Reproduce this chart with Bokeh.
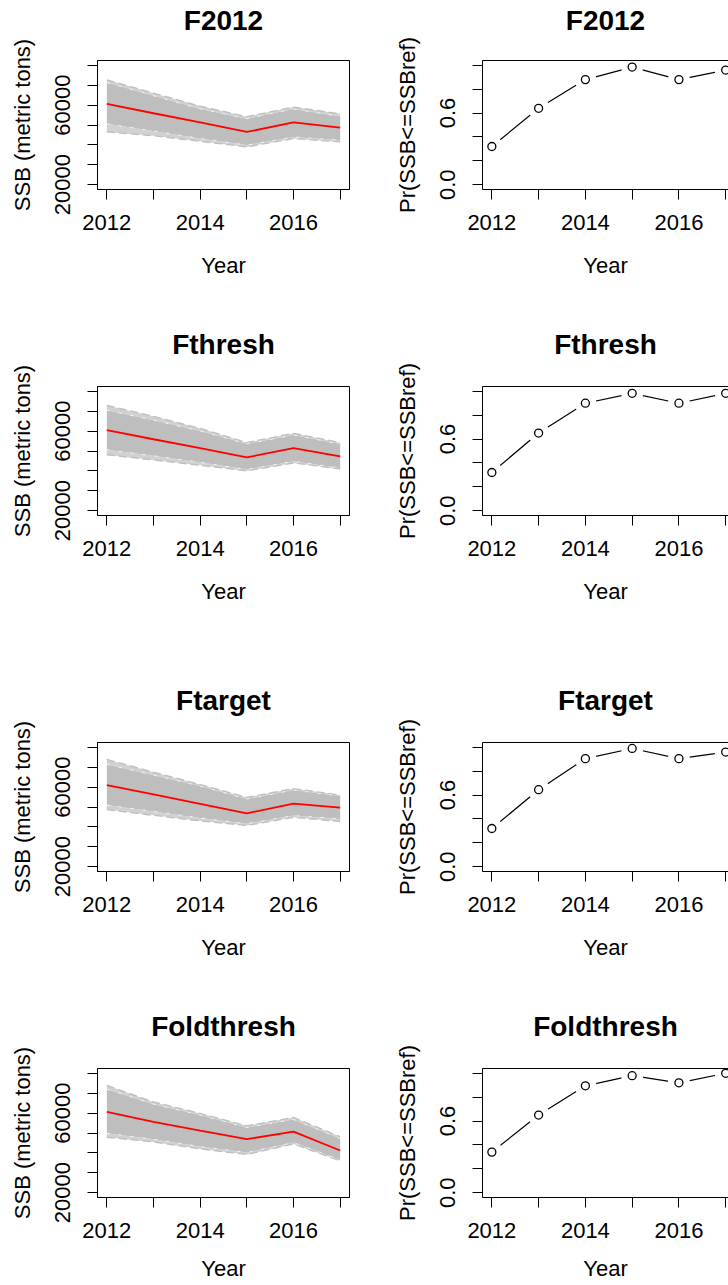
from bokeh.plotting import figure
from bokeh.layouts import column, row
from bokeh.models import FixedTicker, Range1d, LinearAxis
from bokeh.embed import file_html
from bokeh.resources import INLINE

# ---------------- data ----------------
years = [2012, 2013, 2014, 2015, 2016, 2017]
scenarios = ["F2012", "Fthresh", "Ftarget", "Foldthresh"]

# SSB (metric tons): median trajectory (red) and envelope of the simulated trajectories (gray)
median_F2012 = [60600, 55900, 51300, 46500, 51300, 48700]
core_hi_F2012 = [71300, 64700, 58100, 53200, 58000, 54300]
core_lo_F2012 = [50600, 47000, 43200, 39900, 44000, 42400]
outer_hi_F2012 = [72700, 66000, 59500, 54200, 59000, 55600]
outer_lo_F2012 = [46500, 44600, 41800, 39000, 43200, 41500]

median_Fthresh = [60500, 55900, 51400, 46800, 51450, 47300]
core_hi_Fthresh = [70500, 65500, 60000, 53600, 58000, 53500]
core_lo_Fthresh = [50600, 47600, 44300, 40700, 44800, 41500]
outer_hi_Fthresh = [72900, 67400, 61400, 54200, 58900, 54200]
outer_lo_Fthresh = [48100, 45500, 42800, 40000, 44000, 41000]

median_Ftarget = [60950, 56300, 51600, 46840, 51660, 49670]
core_hi_Ftarget = [71400, 66000, 60500, 54000, 58500, 55500]
core_lo_Ftarget = [51000, 47800, 44500, 41600, 45700, 44000]
outer_hi_Ftarget = [73900, 67500, 61300, 54800, 59260, 56000]
outer_lo_Ftarget = [48700, 45800, 43000, 40700, 44800, 42700]

median_Foldthresh = [60600, 55600, 51150, 46900, 50650, 41200]
core_hi_Foldthresh = [72000, 64500, 59000, 52800, 56800, 47300]
core_lo_Foldthresh = [49850, 46900, 43200, 40200, 45200, 36600]
outer_hi_Foldthresh = [73900, 65600, 59800, 53600, 57800, 48150]
outer_lo_Foldthresh = [47860, 45500, 42000, 39200, 44500, 36000]

# Pr(SSB <= SSBref)
prob_F2012 = [0.32, 0.64, 0.88, 0.985, 0.88, 0.96]
prob_Fthresh = [0.32, 0.65, 0.90, 0.983, 0.90, 0.983]
prob_Ftarget = [0.32, 0.645, 0.905, 0.99, 0.905, 0.96]
prob_Foldthresh = [0.34, 0.65, 0.895, 0.98, 0.92, 1.0]

ssb_ticks = [20000, 30000, 40000, 50000, 60000, 70000, 80000]
ssb_tick_labels = ["20000", "", "", "", "60000", "", ""]
prob_ticks = [0.0, 0.2, 0.4, 0.6, 0.8, 1.0]
prob_tick_labels = ["0.0", "", "", "0.6", "", ""]
year_tick_labels = ["2012", "", "2014", "", "2016", ""]

SSB = {
    "F2012": (median_F2012, core_lo_F2012, core_hi_F2012, outer_lo_F2012, outer_hi_F2012),
    "Fthresh": (median_Fthresh, core_lo_Fthresh, core_hi_Fthresh, outer_lo_Fthresh, outer_hi_Fthresh),
    "Ftarget": (median_Ftarget, core_lo_Ftarget, core_hi_Ftarget, outer_lo_Ftarget, outer_hi_Ftarget),
    "Foldthresh": (median_Foldthresh, core_lo_Foldthresh, core_hi_Foldthresh, outer_lo_Foldthresh, outer_hi_Foldthresh),
}
PROB = {"F2012": prob_F2012, "Fthresh": prob_Fthresh, "Ftarget": prob_Ftarget, "Foldthresh": prob_Foldthresh}

# ---------------- styling / layout ----------------
FONT = "Liberation Sans"
GRAY = "#BEBEBE"
FRAME_H = 129
tops = [60, 62, 62, 62]
bottoms = [135, 165, 135, 88]
title_standoffs = [25, 27, 27, 27]
xlab_standoffs = [20, 20, 20, 15]
XLIM = (2011.8, 2017.2)
SSB_LIM = (17600, 82400)
PROB_LIM = (-0.04, 1.04)


def style(p, i, ylabel, yticks, ylabels, name, top_line):
    p.xgrid.visible = False
    p.ygrid.visible = False
    p.background_fill_color = "white"
    p.border_fill_color = "white"
    p.xaxis.ticker = FixedTicker(ticks=years)
    p.xaxis.major_label_overrides = {y: l for y, l in zip(years, year_tick_labels)}
    p.yaxis.ticker = FixedTicker(ticks=yticks)
    p.yaxis.major_label_overrides = {t: l for t, l in zip(yticks, ylabels)}
    p.yaxis.major_label_orientation = "vertical"
    p.xaxis.axis_label = "Year"
    p.yaxis.axis_label = ylabel
    for ax in (p.xaxis[0], p.yaxis[0]):
        ax.axis_line_color = "black"
        ax.axis_line_width = 1
        ax.major_tick_line_color = "black"
        ax.major_tick_line_width = 1
        ax.major_tick_in = 0
        ax.major_tick_out = 10
        ax.minor_tick_line_color = None
        ax.major_label_text_font = FONT
        ax.major_label_text_font_size = "22px"
        ax.major_label_text_color = "black"
        ax.axis_label_text_font = FONT
        ax.axis_label_text_font_size = "22px"
        ax.axis_label_text_font_style = "normal"
        ax.axis_label_text_color = "black"
    p.xaxis.major_label_standoff = 15
    p.xaxis.axis_label_standoff = xlab_standoffs[i]
    p.yaxis.major_label_standoff = 17
    p.yaxis.axis_label_standoff = 18
    # main title: label of an empty axis above the plot region (centred as in R)
    top = LinearAxis(ticker=FixedTicker(ticks=[]), axis_label=name,
                     axis_label_text_font=FONT, axis_label_text_font_size="28px",
                     axis_label_text_font_style="bold", axis_label_text_color="black",
                     axis_label_standoff=title_standoffs[i], major_label_standoff=0,
                     major_tick_out=0, major_tick_in=0, minor_tick_out=0, minor_tick_in=0,
                     axis_line_color="black" if top_line else None, axis_line_width=1)
    p.add_layout(top, "above")


rows = []
for i, name in enumerate(scenarios):
    h = tops[i] + FRAME_H + bottoms[i]
    med, clo, chi, olo, ohi = SSB[name]

    left = figure(width=364, height=h,
                  x_range=Range1d(*XLIM), y_range=Range1d(*SSB_LIM),
                  output_backend="svg", toolbar_location=None,
                  min_border_left=97, min_border_right=15,
                  min_border_top=tops[i], min_border_bottom=bottoms[i])
    style(left, i, "SSB (metric tons)", ssb_ticks, ssb_tick_labels, name, False)
    left.outline_line_color = "black"
    left.outline_line_width = 1
    left.varea(x=years, y1=clo, y2=chi, fill_color=GRAY, fill_alpha=1)
    left.varea(x=years, y1=olo, y2=clo, fill_color=GRAY, fill_alpha=0.7)
    left.varea(x=years, y1=chi, y2=ohi, fill_color=GRAY, fill_alpha=0.7)
    left.line(years, ohi, line_color=GRAY, line_width=1.3, line_dash="8 4")
    left.line(years, olo, line_color=GRAY, line_width=1.3, line_dash="8 4")
    left.line(years, chi, line_color="white", line_width=0.8, line_dash="3 9")
    left.line(years, clo, line_color="white", line_width=0.8, line_dash="3 9")
    left.line(years, med, line_color="red", line_width=1.8)

    prob = PROB[name]
    right = figure(width=364, height=h,
                   x_range=Range1d(XLIM[0], 2017.06), y_range=Range1d(*PROB_LIM),
                   output_backend="svg", toolbar_location=None,
                   min_border_left=118, min_border_right=0,
                   min_border_top=tops[i], min_border_bottom=bottoms[i])
    style(right, i, "Pr(SSB<=SSBref)", prob_ticks, prob_tick_labels, name, True)
    right.outline_line_color = None
    right.line(years, prob, line_color="black", line_width=1.2)
    right.scatter(years, prob, size=22, fill_color="white", line_color=None)
    right.scatter(years, prob, size=8, fill_color="white", line_color="black", line_width=1.3)

    rows.append(row(left, right))

layout = column(*rows)

open("out.html", "w").write(file_html(layout, INLINE))
